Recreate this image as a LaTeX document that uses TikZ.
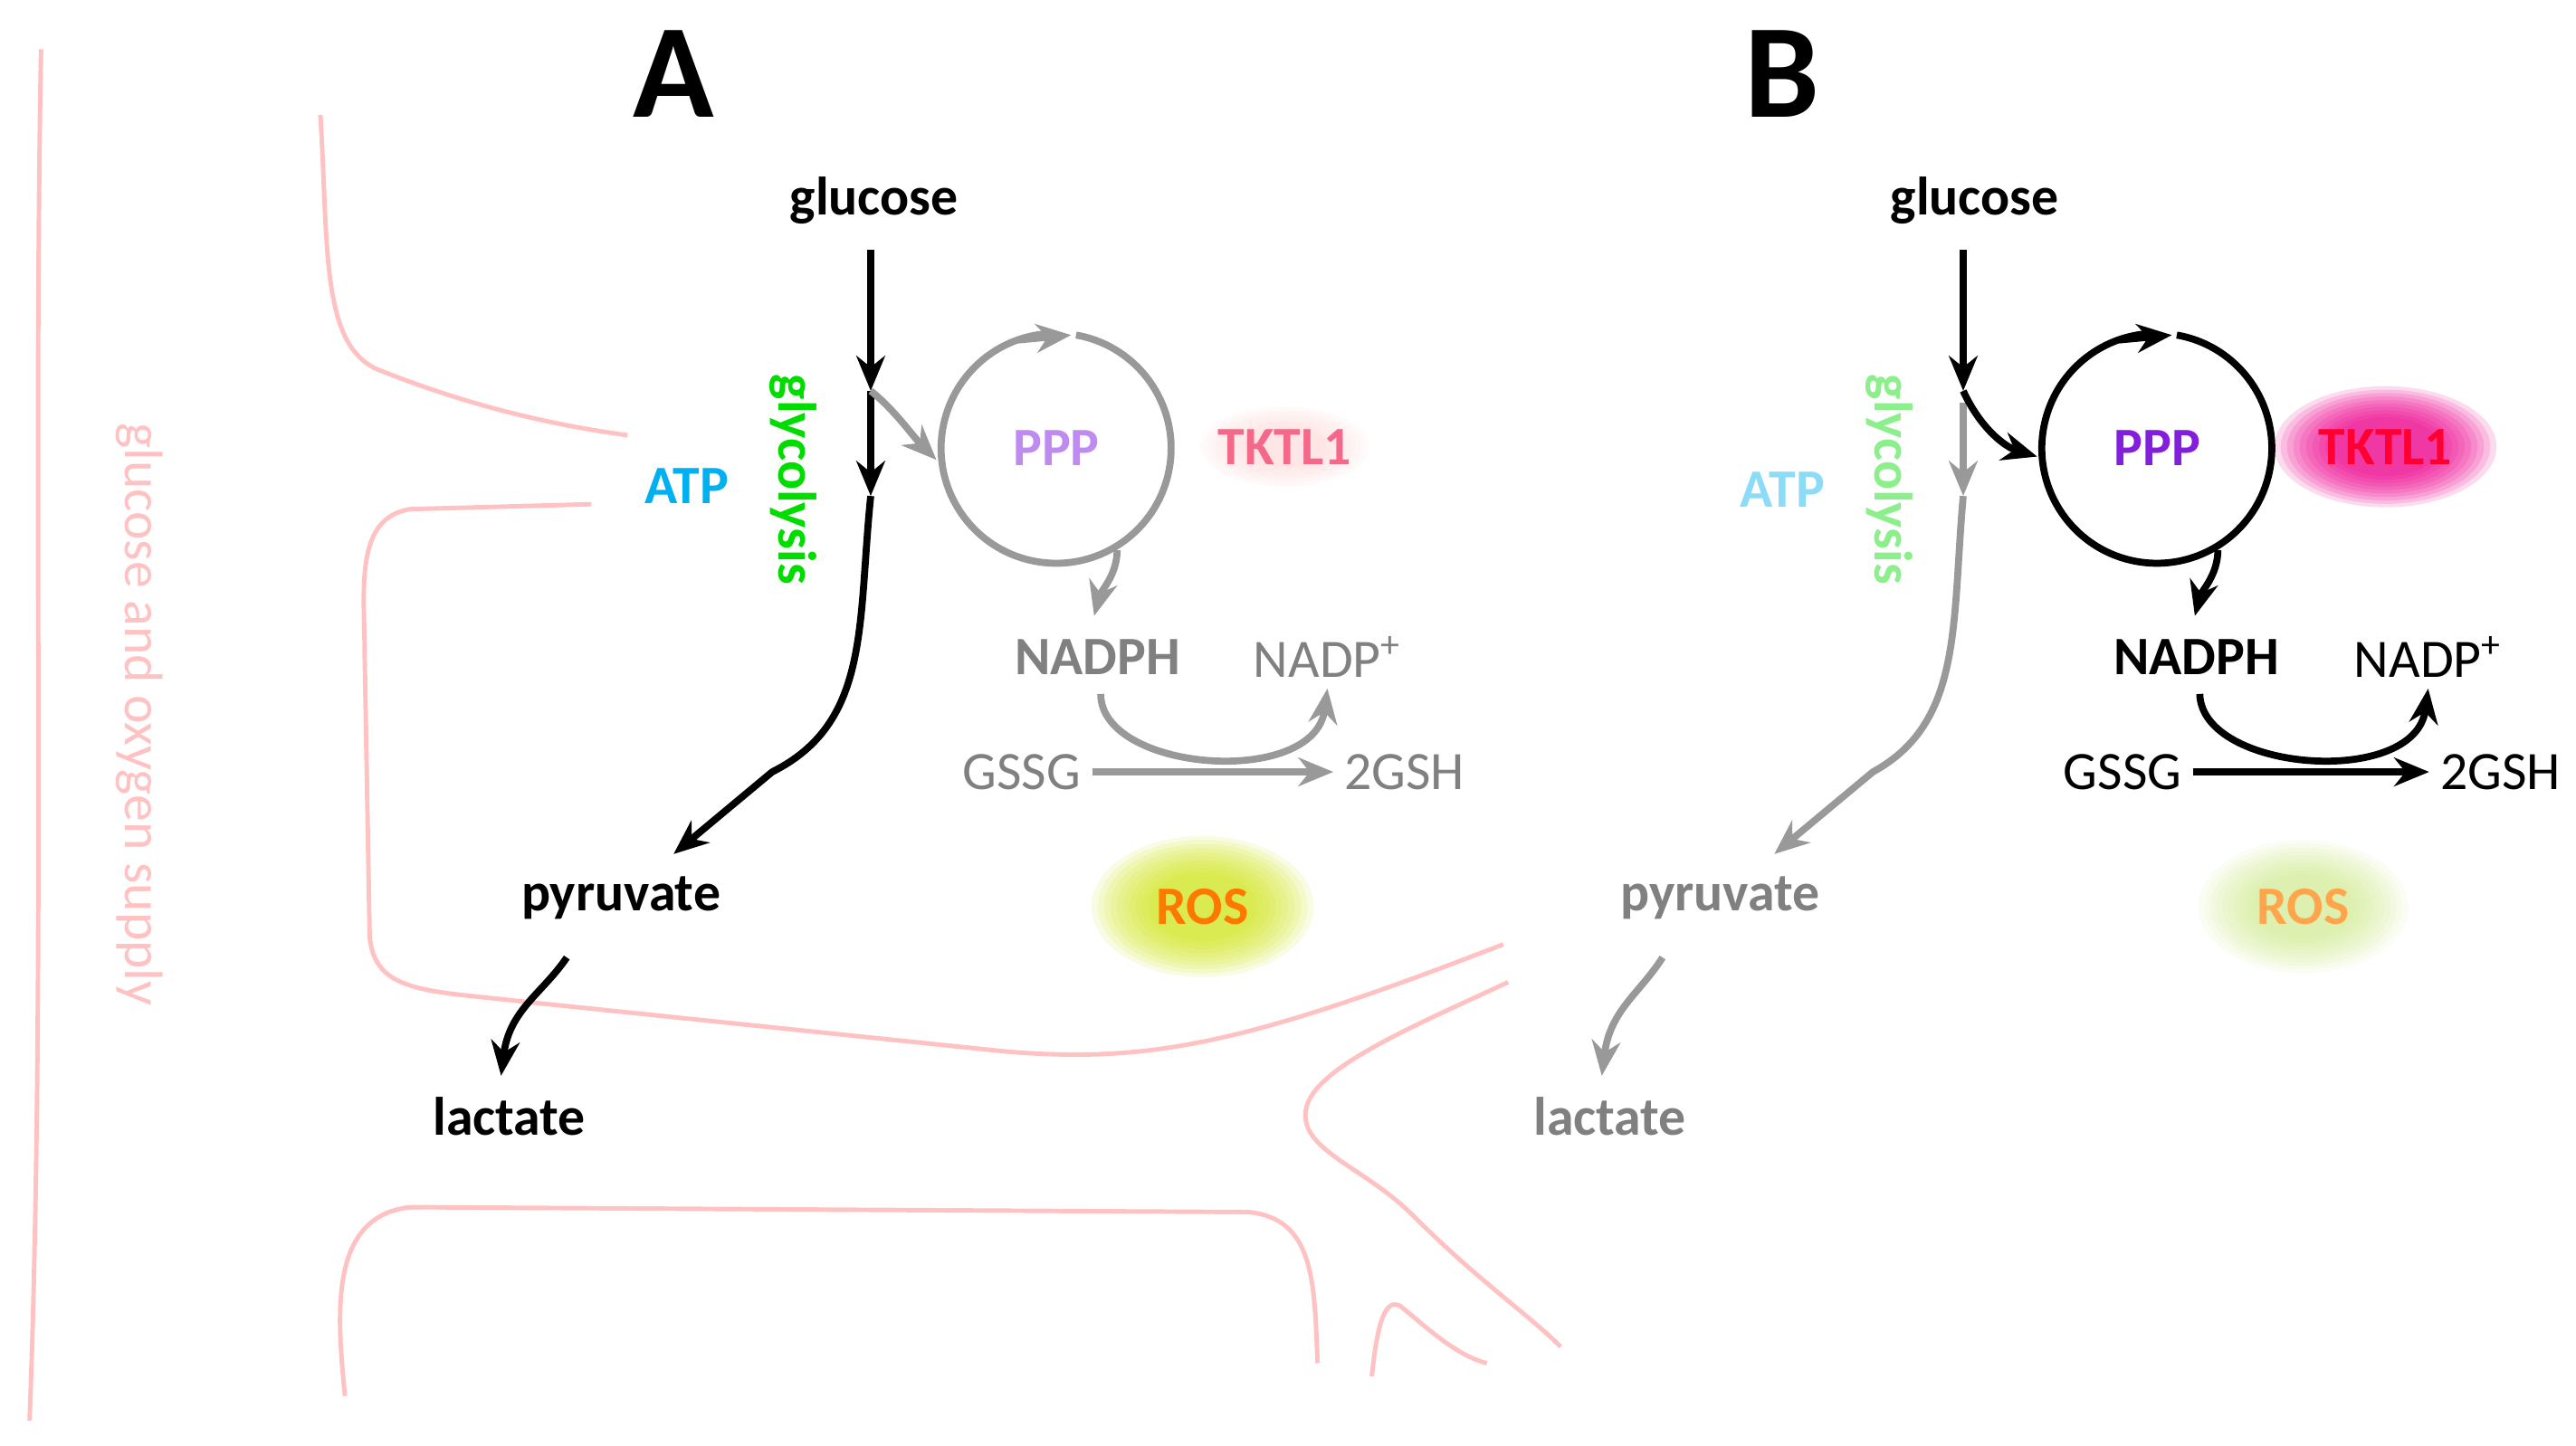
\documentclass[tikz,border=0pt]{standalone}
\usepackage{fontspec}
\setmainfont{Carlito}
\usetikzlibrary{arrows.meta,positioning}
\tikzset{
  lbl/.style={font=\bfseries\fontsize{17}{20}\selectfont},
  thin lbl/.style={font=\fontsize{17}{20}\selectfont},
  big/.style={font=\bfseries\fontsize{42}{46}\selectfont},
  flow/.style={line width=2.2pt,-{Stealth[length=11pt,width=9pt]}},
  vessel/.style={line width=1.4pt,draw=pink!80!red!60},
}
\definecolor{atpblue}{RGB}{0,176,240}
\definecolor{glygreen}{RGB}{0,220,0}
\definecolor{lilac}{RGB}{190,140,240}
\definecolor{ppppurple}{RGB}{130,30,220}
\definecolor{rosorange}{RGB}{255,120,0}
\newcommand{\glowat}[5]{% position, colour, width, height, strength
  \foreach \k in {1,...,10}
    \fill[#2,opacity=#5] (#1) ellipse ({#3*(1.3-0.07*\k)} and {#4*(1.3-0.07*\k)});}
\begin{document}
\begin{tikzpicture}[x=0.01815cm,y=-0.01815cm]
\useasboundingbox (0,0) rectangle (1568,880);
% vessels
\draw[vessel] (25,30) .. controls (20,300) and (28,600) .. (18,865);
\draw[vessel] (195,70) .. controls (200,150) and (195,210) .. (230,225) .. controls (280,245) and (330,258) .. (382,265);
\draw[vessel] (360,307) -- (250,310) .. controls (215,315) and (222,360) .. (222,400) -- (225,570) .. controls (228,605) and (260,603) .. (320,610) -- (610,640) .. controls (700,648) and (760,635) .. (915,575);
\draw[vessel] (918,598) .. controls (860,625) and (800,650) .. (795,675) .. controls (790,700) and (830,710) .. (860,740) .. controls (900,780) and (930,800) .. (950,820);
\draw[vessel] (210,850) .. controls (205,800) and (200,740) .. (250,735) -- (760,738) .. controls (800,742) and (800,780) .. (802,830);
\draw[vessel] (835,838) .. controls (838,810) and (842,790) .. (852,795) .. controls (865,805) and (885,825) .. (905,830);
\node[thin lbl,text=pink!80!red!60,rotate=-90] (supply) at (85,435) {glucose and oxygen supply};
% panel A
\node[big] (A) at (410,45) {A};
\node[lbl] (glcA) at (532,122) {glucose};
\coordinate (brA) at (530,238);
\coordinate (midA) at (530,302);
\draw[flow] (530,152) -- (brA);
\draw[flow] (brA) -- (midA);
\node[lbl] (pyrA) at (378,547) {pyruvate};
\node[lbl] (lacA) at (310,680) {lactate};
\draw[flow] (midA) .. controls (522,380) and (530,440) .. (470,470) -- (410,520);
\draw[flow] (345,583) .. controls (330,605) and (310,615) .. (305,655);
\draw[flow,gray!80] (brA) .. controls (545,250) and (555,265) .. (570,280);
\node[lbl,text=lilac] (pppA) at (643,273) {PPP};
\draw[gray!80,line width=2.2pt] (655,204) arc (-80:265:70);
\draw[flow,gray!80] (620,207) -- (652,204);
\draw[flow,gray!80] (680,335) .. controls (680,350) and (670,360) .. (666,375);
\glowat{782,272}{pink!70}{42}{20}{0.08}
\node[lbl,text=magenta!50!red!60] (tkA) at (782,272) {TKTL1};
\node[lbl,text=gray] (nadphA) at (668,400) {NADPH};
\node[thin lbl,text=gray] (nadpA) at (808,400) {NADP\textsuperscript{+}};
\node[thin lbl,text=gray] (gssgA) at (622,470) {GSSG};
\node[thin lbl,text=gray] (gshA) at (855,470) {2GSH};
\draw[flow,gray!80] (gssgA.east) -- (gshA.west);
\draw[flow,gray!80] (nadphA.south) ++(2,5) .. controls (670,470) and (800,480) .. (nadpA.south);
\glowat{732,552}{yellow!80!green}{55}{35}{0.12}
\node[lbl,text=rosorange] (rosA) at (732,552) {ROS};
\node[lbl,text=atpblue] (atpA) at (418,296) {ATP};
\node[lbl,text=glygreen,rotate=-90] (glyA) at (483,292) {glycolysis};
% panel B
\node[big] (B) at (1085,45) {B};
\node[lbl] (glcB) at (1202,122) {glucose};
\coordinate (brB) at (1195,238);
\coordinate (midB) at (1195,302);
\draw[flow] (1195,152) -- (brB);
\draw[flow,gray!80] (1195,245) -- (midB);
\node[lbl,text=gray] (pyrB) at (1047,547) {pyruvate};
\node[lbl,text=gray] (lacB) at (980,680) {lactate};
\draw[flow,gray!80] (midB) .. controls (1188,380) and (1195,440) .. (1140,470) -- (1080,520);
\draw[flow,gray!80] (1012,583) .. controls (998,605) and (980,615) .. (975,655);
\draw[flow] (brB) .. controls (1205,260) and (1220,272) .. (1240,278);
\node[lbl,text=ppppurple] (pppB) at (1313,273) {PPP};
\draw[black,line width=2.2pt] (1325,204) arc (-80:265:70);
\draw[flow] (1290,207) -- (1322,204);
\draw[flow] (1350,335) .. controls (1350,350) and (1340,360) .. (1336,375);
\glowat{1452,272}{magenta}{55}{30}{0.14}
\node[lbl,text=red!80!magenta] (tkB) at (1452,272) {TKTL1};
\node[lbl] (nadphB) at (1337,400) {NADPH};
\node[thin lbl] (nadpB) at (1478,400) {NADP\textsuperscript{+}};
\node[thin lbl] (gssgB) at (1292,470) {GSSG};
\node[thin lbl] (gshB) at (1522,470) {2GSH};
\draw[flow] (gssgB.east) -- (gshB.west);
\draw[flow] (nadphB.south) ++(2,5) .. controls (1340,470) and (1470,480) .. (nadpB.south);
\glowat{1402,552}{yellow!60!green!60}{52}{33}{0.08}
\node[lbl,text=orange!70] (rosB) at (1402,552) {ROS};
\node[lbl,text=atpblue!45] (atpB) at (1085,298) {ATP};
\node[lbl,text=glygreen!45,rotate=-90] (glyB) at (1150,292) {glycolysis};
\end{tikzpicture}
\end{document}
